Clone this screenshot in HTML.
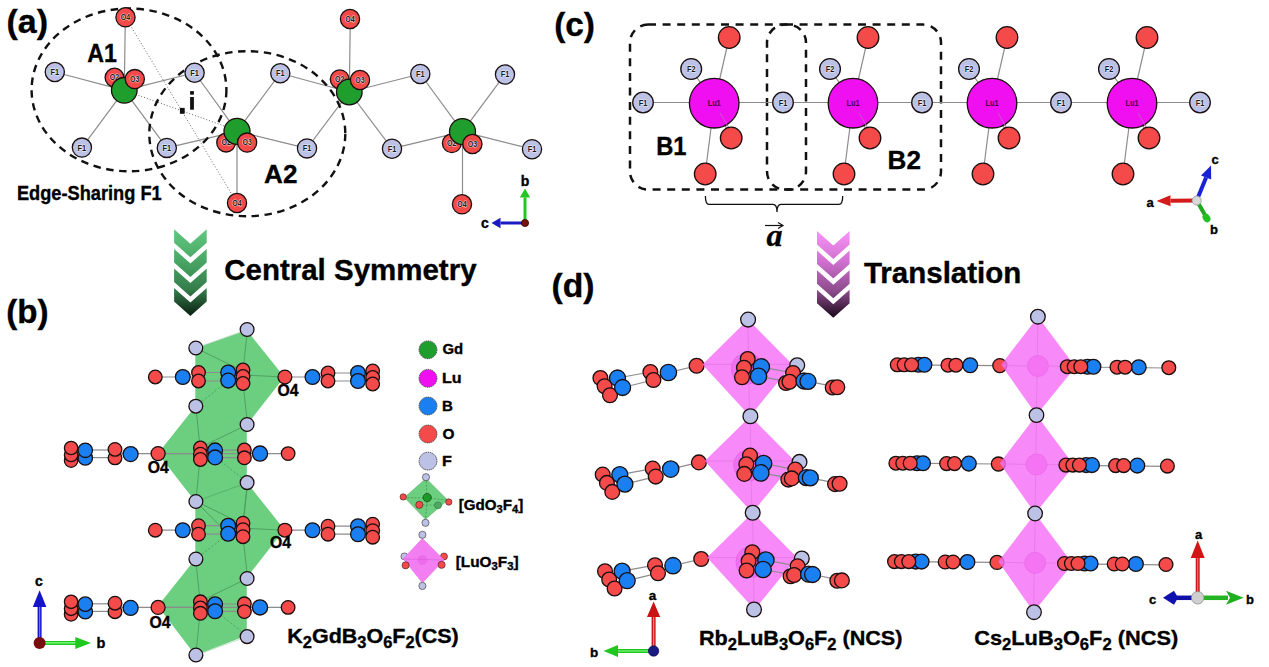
<!DOCTYPE html>
<html><head><meta charset="utf-8"><style>
html,body{margin:0;padding:0;background:#fff;}
svg{display:block;font-family:"Liberation Sans",sans-serif;}
.lu{font-weight:bold;}
svg > text:not(.al):not(.lu){stroke:#000;stroke-width:0.35px;}
.al{font-weight:bold;stroke:rgba(255,255,255,0.75);stroke-width:1.1px;paint-order:stroke;stroke-linejoin:round;}
</style></head><body>
<svg width="1269" height="667" viewBox="0 0 1269 667">
<rect width="1269" height="667" fill="#fff"/>
<text transform="translate(6.40,32.7) scale(1.0064,1)" font-size="33.8" font-weight="bold" >(a)</text>
<line x1="125.5" y1="17.3" x2="237" y2="203" stroke="#666" stroke-width="1" stroke-dasharray="1 2"/>
<line x1="124.3" y1="90.3" x2="237" y2="130.5" stroke="#666" stroke-width="1" stroke-dasharray="1 2"/>
<line x1="124.3" y1="90.3" x2="125.3" y2="18.299999999999997" stroke="#8c8c8c" stroke-width="1.2" />
<line x1="124.3" y1="90.3" x2="54.8" y2="71.9989" stroke="#8c8c8c" stroke-width="1.2" />
<line x1="124.3" y1="90.3" x2="194.6" y2="72.7678" stroke="#8c8c8c" stroke-width="1.2" />
<line x1="124.3" y1="90.3" x2="81.9" y2="147.59965" stroke="#8c8c8c" stroke-width="1.2" />
<line x1="124.3" y1="90.3" x2="166.8" y2="147.89679999999998" stroke="#8c8c8c" stroke-width="1.2" />
<line x1="237" y1="131.3" x2="237" y2="203.3" stroke="#8c8c8c" stroke-width="1.2" />
<line x1="237" y1="131.3" x2="194.6" y2="72.7678" stroke="#8c8c8c" stroke-width="1.2" />
<line x1="237" y1="131.3" x2="280.3" y2="73.23915" stroke="#8c8c8c" stroke-width="1.2" />
<line x1="237" y1="131.3" x2="166.8" y2="147.89679999999998" stroke="#8c8c8c" stroke-width="1.2" />
<line x1="237" y1="131.3" x2="307" y2="148.3875" stroke="#8c8c8c" stroke-width="1.2" />
<line x1="349.3" y1="92" x2="350.3" y2="20" stroke="#8c8c8c" stroke-width="1.2" />
<line x1="349.3" y1="92" x2="280.3" y2="73.23915" stroke="#8c8c8c" stroke-width="1.2" />
<line x1="349.3" y1="92" x2="420.3" y2="74.00915" stroke="#8c8c8c" stroke-width="1.2" />
<line x1="349.3" y1="92" x2="307" y2="148.3875" stroke="#8c8c8c" stroke-width="1.2" />
<line x1="349.3" y1="92" x2="392" y2="148.685" stroke="#8c8c8c" stroke-width="1.2" />
<line x1="462.5" y1="131.6" x2="462.5" y2="203.6" stroke="#8c8c8c" stroke-width="1.2" />
<line x1="462.5" y1="131.6" x2="420.3" y2="74.00915" stroke="#8c8c8c" stroke-width="1.2" />
<line x1="462.5" y1="131.6" x2="505" y2="74.475" stroke="#8c8c8c" stroke-width="1.2" />
<line x1="462.5" y1="131.6" x2="392" y2="148.685" stroke="#8c8c8c" stroke-width="1.2" />
<line x1="462.5" y1="131.6" x2="532" y2="149.17499999999998" stroke="#8c8c8c" stroke-width="1.2" />
<ellipse cx="129" cy="89.9" rx="97.4" ry="81.4" fill="none" stroke="#111" stroke-width="2.4" stroke-dasharray="7.5 5.5"/>
<ellipse cx="247.3" cy="133.7" rx="98" ry="82.5" fill="none" stroke="#111" stroke-width="2.4" stroke-dasharray="7.5 5.5"/>
<circle cx="125.5" cy="17.3" r="9.6" fill="#f44a4a" stroke="#1a0e0e" stroke-width="1.3"/>
<text transform="translate(125.5,20.17) scale(0.86,1)" font-size="8.2" text-anchor="middle" class="al" fill="#1a1a1a">O4</text>
<circle cx="350" cy="19" r="9.6" fill="#f44a4a" stroke="#1a0e0e" stroke-width="1.3"/>
<text transform="translate(350,21.87) scale(0.86,1)" font-size="8.2" text-anchor="middle" class="al" fill="#1a1a1a">O4</text>
<circle cx="237" cy="203" r="9.6" fill="#f44a4a" stroke="#1a0e0e" stroke-width="1.3"/>
<text transform="translate(237,205.87) scale(0.86,1)" font-size="8.2" text-anchor="middle" class="al" fill="#1a1a1a">O4</text>
<circle cx="462" cy="204.3" r="9.6" fill="#f44a4a" stroke="#1a0e0e" stroke-width="1.3"/>
<text transform="translate(462,207.17) scale(0.86,1)" font-size="8.2" text-anchor="middle" class="al" fill="#1a1a1a">O4</text>
<circle cx="54.8" cy="71.9989" r="9.6" fill="#bcc2e6" stroke="#1a0e0e" stroke-width="1.3"/>
<text transform="translate(54.8,75.01) scale(0.86,1)" font-size="8.6" text-anchor="middle" class="al" fill="#1a1a1a">F1</text>
<circle cx="194.6" cy="72.7678" r="9.6" fill="#bcc2e6" stroke="#1a0e0e" stroke-width="1.3"/>
<text transform="translate(194.6,75.78) scale(0.86,1)" font-size="8.6" text-anchor="middle" class="al" fill="#1a1a1a">F1</text>
<circle cx="280.3" cy="73.23915" r="9.6" fill="#bcc2e6" stroke="#1a0e0e" stroke-width="1.3"/>
<text transform="translate(280.3,76.25) scale(0.86,1)" font-size="8.6" text-anchor="middle" class="al" fill="#1a1a1a">F1</text>
<circle cx="420.3" cy="74.00915" r="9.6" fill="#bcc2e6" stroke="#1a0e0e" stroke-width="1.3"/>
<text transform="translate(420.3,77.02) scale(0.86,1)" font-size="8.6" text-anchor="middle" class="al" fill="#1a1a1a">F1</text>
<circle cx="505" cy="74.475" r="9.6" fill="#bcc2e6" stroke="#1a0e0e" stroke-width="1.3"/>
<text transform="translate(505,77.48) scale(0.86,1)" font-size="8.6" text-anchor="middle" class="al" fill="#1a1a1a">F1</text>
<circle cx="81.9" cy="147.59965" r="9.6" fill="#bcc2e6" stroke="#1a0e0e" stroke-width="1.3"/>
<text transform="translate(81.9,150.61) scale(0.86,1)" font-size="8.6" text-anchor="middle" class="al" fill="#1a1a1a">F1</text>
<circle cx="166.8" cy="147.89679999999998" r="9.6" fill="#bcc2e6" stroke="#1a0e0e" stroke-width="1.3"/>
<text transform="translate(166.8,150.91) scale(0.86,1)" font-size="8.6" text-anchor="middle" class="al" fill="#1a1a1a">F1</text>
<circle cx="307" cy="148.3875" r="9.6" fill="#bcc2e6" stroke="#1a0e0e" stroke-width="1.3"/>
<text transform="translate(307,151.40) scale(0.86,1)" font-size="8.6" text-anchor="middle" class="al" fill="#1a1a1a">F1</text>
<circle cx="392" cy="148.685" r="9.6" fill="#bcc2e6" stroke="#1a0e0e" stroke-width="1.3"/>
<text transform="translate(392,151.69) scale(0.86,1)" font-size="8.6" text-anchor="middle" class="al" fill="#1a1a1a">F1</text>
<circle cx="532" cy="149.17499999999998" r="9.6" fill="#bcc2e6" stroke="#1a0e0e" stroke-width="1.3"/>
<text transform="translate(532,152.18) scale(0.86,1)" font-size="8.6" text-anchor="middle" class="al" fill="#1a1a1a">F1</text>
<circle cx="114.5" cy="77.6" r="9.4" fill="#f44a4a" stroke="#1a0e0e" stroke-width="1.3"/>
<text transform="translate(114.5,80.47) scale(0.86,1)" font-size="8.2" text-anchor="middle" class="al" fill="#1a1a1a">O2</text>
<circle cx="124.3" cy="90.3" r="12.8" fill="#1f9e2d" stroke="#1a0e0e" stroke-width="1.3"/>
<circle cx="134.8" cy="79.1" r="9.6" fill="#f44a4a" stroke="#1a0e0e" stroke-width="1.3"/>
<text transform="translate(134.8,81.97) scale(0.86,1)" font-size="8.2" text-anchor="middle" class="al" fill="#1a1a1a">O3</text>
<circle cx="339.7" cy="79.3" r="9.4" fill="#f44a4a" stroke="#1a0e0e" stroke-width="1.3"/>
<text transform="translate(339.7,82.17) scale(0.86,1)" font-size="8.2" text-anchor="middle" class="al" fill="#1a1a1a">O2</text>
<circle cx="349.3" cy="92" r="12.8" fill="#1f9e2d" stroke="#1a0e0e" stroke-width="1.3"/>
<circle cx="360" cy="80" r="9.6" fill="#f44a4a" stroke="#1a0e0e" stroke-width="1.3"/>
<text transform="translate(360,82.87) scale(0.86,1)" font-size="8.2" text-anchor="middle" class="al" fill="#1a1a1a">O3</text>
<circle cx="226.1" cy="142.6" r="9.4" fill="#f44a4a" stroke="#1a0e0e" stroke-width="1.3"/>
<text transform="translate(226.1,145.47) scale(0.86,1)" font-size="8.2" text-anchor="middle" class="al" fill="#1a1a1a">O2</text>
<circle cx="237" cy="131.3" r="13" fill="#1f9e2d" stroke="#1a0e0e" stroke-width="1.3"/>
<circle cx="247.1" cy="142.6" r="9.6" fill="#f44a4a" stroke="#1a0e0e" stroke-width="1.3"/>
<text transform="translate(247.1,145.47) scale(0.86,1)" font-size="8.2" text-anchor="middle" class="al" fill="#1a1a1a">O3</text>
<circle cx="451.8" cy="143.2" r="9.4" fill="#f44a4a" stroke="#1a0e0e" stroke-width="1.3"/>
<text transform="translate(451.8,146.07) scale(0.86,1)" font-size="8.2" text-anchor="middle" class="al" fill="#1a1a1a">O2</text>
<circle cx="462.5" cy="131.6" r="13" fill="#1f9e2d" stroke="#1a0e0e" stroke-width="1.3"/>
<circle cx="472.4" cy="144" r="9.6" fill="#f44a4a" stroke="#1a0e0e" stroke-width="1.3"/>
<text transform="translate(472.4,146.87) scale(0.86,1)" font-size="8.2" text-anchor="middle" class="al" fill="#1a1a1a">O3</text>
<text transform="translate(87.20,61.8) scale(0.8991,1)" font-size="25.8" font-weight="bold" >A1</text>
<text transform="translate(264.12,182.7) scale(1.0090,1)" font-size="25.8" font-weight="bold" >A2</text>
<rect x="179.9" y="107.9" width="4.8" height="5.9" fill="#111"/>
<rect x="190.1" y="97" width="3.8" height="12.7" fill="#111"/>
<rect x="190.1" y="91.1" width="3.8" height="3.6" fill="#111"/>
<text transform="translate(16.92,199.5) scale(0.9253,1)" font-size="19.7" font-weight="bold" >Edge-Sharing F1</text>
<line x1="525" y1="223" x2="525.00" y2="197.50" stroke="#22c822" stroke-width="3"/>
<polygon points="525.00,188.50 530.20,197.50 519.80,197.50" fill="#22c822"/>
<line x1="525" y1="223" x2="500.50" y2="223.00" stroke="#1a1ac0" stroke-width="3"/>
<polygon points="491.50,223.00 500.50,217.80 500.50,228.20" fill="#1a1ac0"/>
<circle cx="525" cy="223" r="3.6" fill="#7a1010" stroke="#300" stroke-width="0.8"/>
<text x="525" y="186" font-size="14" font-weight="bold" text-anchor="middle" >b</text>
<text x="485" y="228" font-size="14" font-weight="bold" text-anchor="middle" >c</text>
<text transform="translate(554.13,35.9) scale(1.0088,1)" font-size="33.1" font-weight="bold" >(c)</text>
<rect x="630" y="24.6" width="176" height="165" rx="18" fill="none" stroke="#111" stroke-width="2.5" stroke-dasharray="8 6.6"/>
<rect x="767" y="24.6" width="174" height="165" rx="18" fill="none" stroke="#111" stroke-width="2.5" stroke-dasharray="8 6.6"/>
<line x1="643" y1="102.5" x2="1200" y2="102.5" stroke="#8c8c8c" stroke-width="1.2" />
<line x1="714.2" y1="103" x2="729.2" y2="37.5" stroke="#8c8c8c" stroke-width="1.2" />
<line x1="714.2" y1="103" x2="705.2" y2="174" stroke="#8c8c8c" stroke-width="1.2" />
<line x1="714.2" y1="103" x2="731.2" y2="138" stroke="#8c8c8c" stroke-width="1.2" />
<line x1="714.2" y1="103" x2="691.2" y2="69" stroke="#8c8c8c" stroke-width="1.2" />
<line x1="853" y1="103" x2="868" y2="37.5" stroke="#8c8c8c" stroke-width="1.2" />
<line x1="853" y1="103" x2="844" y2="174" stroke="#8c8c8c" stroke-width="1.2" />
<line x1="853" y1="103" x2="870" y2="138" stroke="#8c8c8c" stroke-width="1.2" />
<line x1="853" y1="103" x2="830" y2="69" stroke="#8c8c8c" stroke-width="1.2" />
<line x1="992" y1="103" x2="1007" y2="37.5" stroke="#8c8c8c" stroke-width="1.2" />
<line x1="992" y1="103" x2="983" y2="174" stroke="#8c8c8c" stroke-width="1.2" />
<line x1="992" y1="103" x2="1009" y2="138" stroke="#8c8c8c" stroke-width="1.2" />
<line x1="992" y1="103" x2="969" y2="69" stroke="#8c8c8c" stroke-width="1.2" />
<line x1="1132" y1="103" x2="1147" y2="37.5" stroke="#8c8c8c" stroke-width="1.2" />
<line x1="1132" y1="103" x2="1123" y2="174" stroke="#8c8c8c" stroke-width="1.2" />
<line x1="1132" y1="103" x2="1149" y2="138" stroke="#8c8c8c" stroke-width="1.2" />
<line x1="1132" y1="103" x2="1109" y2="69" stroke="#8c8c8c" stroke-width="1.2" />
<circle cx="643" cy="102.5" r="10.3" fill="#bcc2e6" stroke="#1a0e0e" stroke-width="1.3"/>
<text transform="translate(643,105.51) scale(0.86,1)" font-size="8.6" text-anchor="middle" class="al" fill="#1a1a1a">F1</text>
<circle cx="783" cy="102.5" r="10.3" fill="#bcc2e6" stroke="#1a0e0e" stroke-width="1.3"/>
<text transform="translate(783,105.51) scale(0.86,1)" font-size="8.6" text-anchor="middle" class="al" fill="#1a1a1a">F1</text>
<circle cx="922" cy="102.5" r="10.3" fill="#bcc2e6" stroke="#1a0e0e" stroke-width="1.3"/>
<text transform="translate(922,105.51) scale(0.86,1)" font-size="8.6" text-anchor="middle" class="al" fill="#1a1a1a">F1</text>
<circle cx="1061" cy="102.5" r="10.3" fill="#bcc2e6" stroke="#1a0e0e" stroke-width="1.3"/>
<text transform="translate(1061,105.51) scale(0.86,1)" font-size="8.6" text-anchor="middle" class="al" fill="#1a1a1a">F1</text>
<circle cx="1200" cy="102.5" r="10.3" fill="#bcc2e6" stroke="#1a0e0e" stroke-width="1.3"/>
<text transform="translate(1200,105.51) scale(0.86,1)" font-size="8.6" text-anchor="middle" class="al" fill="#1a1a1a">F1</text>
<circle cx="691.2" cy="69" r="10.4" fill="#bcc2e6" stroke="#1a0e0e" stroke-width="1.3"/>
<text transform="translate(691.2,72.01) scale(0.86,1)" font-size="8.6" text-anchor="middle" class="al" fill="#1a1a1a">F2</text>
<circle cx="714.2" cy="103.2" r="24.8" fill="#f00ff0" stroke="#1a0e0e" stroke-width="1.3"/>
<line x1="720.2" y1="113" x2="728.7" y2="127.5" stroke="#c858c8" stroke-width="1" />
<text transform="translate(714.2,106.17) scale(0.86,1)" font-size="8.5" text-anchor="middle" class="lu" fill="#4a004a">Lu1</text>
<circle cx="729.2" cy="37.5" r="10.8" fill="#f44a4a" stroke="#1a0e0e" stroke-width="1.3"/>
<circle cx="731.2" cy="138" r="10.8" fill="#f44a4a" stroke="#1a0e0e" stroke-width="1.3"/>
<circle cx="705.2" cy="174" r="10.8" fill="#f44a4a" stroke="#1a0e0e" stroke-width="1.3"/>
<circle cx="830" cy="69" r="10.4" fill="#bcc2e6" stroke="#1a0e0e" stroke-width="1.3"/>
<text transform="translate(830,72.01) scale(0.86,1)" font-size="8.6" text-anchor="middle" class="al" fill="#1a1a1a">F2</text>
<circle cx="853" cy="103.2" r="24.8" fill="#f00ff0" stroke="#1a0e0e" stroke-width="1.3"/>
<line x1="859" y1="113" x2="867.5" y2="127.5" stroke="#c858c8" stroke-width="1" />
<text transform="translate(853,106.17) scale(0.86,1)" font-size="8.5" text-anchor="middle" class="lu" fill="#4a004a">Lu1</text>
<circle cx="868" cy="37.5" r="10.8" fill="#f44a4a" stroke="#1a0e0e" stroke-width="1.3"/>
<circle cx="870" cy="138" r="10.8" fill="#f44a4a" stroke="#1a0e0e" stroke-width="1.3"/>
<circle cx="844" cy="174" r="10.8" fill="#f44a4a" stroke="#1a0e0e" stroke-width="1.3"/>
<circle cx="969" cy="69" r="10.4" fill="#bcc2e6" stroke="#1a0e0e" stroke-width="1.3"/>
<text transform="translate(969,72.01) scale(0.86,1)" font-size="8.6" text-anchor="middle" class="al" fill="#1a1a1a">F2</text>
<circle cx="992" cy="103.2" r="24.8" fill="#f00ff0" stroke="#1a0e0e" stroke-width="1.3"/>
<line x1="998" y1="113" x2="1006.5" y2="127.5" stroke="#c858c8" stroke-width="1" />
<text transform="translate(992,106.17) scale(0.86,1)" font-size="8.5" text-anchor="middle" class="lu" fill="#4a004a">Lu1</text>
<circle cx="1007" cy="37.5" r="10.8" fill="#f44a4a" stroke="#1a0e0e" stroke-width="1.3"/>
<circle cx="1009" cy="138" r="10.8" fill="#f44a4a" stroke="#1a0e0e" stroke-width="1.3"/>
<circle cx="983" cy="174" r="10.8" fill="#f44a4a" stroke="#1a0e0e" stroke-width="1.3"/>
<circle cx="1109" cy="69" r="10.4" fill="#bcc2e6" stroke="#1a0e0e" stroke-width="1.3"/>
<text transform="translate(1109,72.01) scale(0.86,1)" font-size="8.6" text-anchor="middle" class="al" fill="#1a1a1a">F2</text>
<circle cx="1132" cy="103.2" r="24.8" fill="#f00ff0" stroke="#1a0e0e" stroke-width="1.3"/>
<line x1="1138" y1="113" x2="1146.5" y2="127.5" stroke="#c858c8" stroke-width="1" />
<text transform="translate(1132,106.17) scale(0.86,1)" font-size="8.5" text-anchor="middle" class="lu" fill="#4a004a">Lu1</text>
<circle cx="1147" cy="37.5" r="10.8" fill="#f44a4a" stroke="#1a0e0e" stroke-width="1.3"/>
<circle cx="1149" cy="138" r="10.8" fill="#f44a4a" stroke="#1a0e0e" stroke-width="1.3"/>
<circle cx="1123" cy="174" r="10.8" fill="#f44a4a" stroke="#1a0e0e" stroke-width="1.3"/>
<text transform="translate(656.24,154.9) scale(0.9057,1)" font-size="26.2" font-weight="bold" >B1</text>
<text transform="translate(887.58,168.6) scale(1.0223,1)" font-size="25.5" font-weight="bold" >B2</text>
<path d="M705.4,196 Q705.4,204.4 709,204.4 L773,204.4 Q777,204.4 777,212 Q777,204.4 781,204.4 L839,204.4 Q842.7,204.4 842.7,196" fill="none" stroke="#111" stroke-width="1.3"/>
<text x="774.4" y="245.8" font-family="Liberation Serif" font-size="32" font-weight="bold" font-style="italic" text-anchor="middle">a</text>
<line x1="765" y1="225.5" x2="782" y2="225.5" stroke="#111" stroke-width="1.2"/>
<path d="M778,222.5 L783,225.5 L778,228.5" fill="none" stroke="#111" stroke-width="1.2"/>
<line x1="1196.7" y1="200.6" x2="1170.50" y2="200.86" stroke="#d41a1a" stroke-width="4"/>
<polygon points="1156.50,201.00 1170.44,195.36 1170.55,206.36" fill="#d41a1a"/>
<line x1="1196.7" y1="200.6" x2="1206.10" y2="177.54" stroke="#1a22d8" stroke-width="4"/>
<polygon points="1211.00,165.50 1211.19,179.61 1201.00,175.46" fill="#1a22d8"/>
<line x1="1196.7" y1="200.6" x2="1205" y2="215" stroke="#20a820" stroke-width="4"/>
<ellipse cx="1206.5" cy="218" rx="4.5" ry="3.6" transform="rotate(55 1206.5 218)" fill="#22c022"/>
<circle cx="1196.7" cy="200.6" r="4.6" fill="#d8d8d8" stroke="#9a9a9a" stroke-width="0.8"/>
<text x="1150" y="207" font-size="13" font-weight="bold" text-anchor="middle" >a</text>
<text x="1215" y="164" font-size="13" font-weight="bold" text-anchor="middle" >c</text>
<text x="1214" y="234" font-size="13" font-weight="bold" text-anchor="middle" >b</text>
<defs><linearGradient id="gg" x1="0" y1="0" x2="0" y2="1"><stop offset="0" stop-color="#62c880"/><stop offset="0.35" stop-color="#4aa866"/><stop offset="0.7" stop-color="#347c4a"/><stop offset="1" stop-color="#0a1e10"/></linearGradient><linearGradient id="pg" x1="0" y1="0" x2="0" y2="1"><stop offset="0" stop-color="#f894f8"/><stop offset="0.35" stop-color="#d070d0"/><stop offset="0.7" stop-color="#8a4a8a"/><stop offset="1" stop-color="#180818"/></linearGradient></defs>
<path d="M174.1,229.3 L190.4,243.8 L206.7,229.3 L206.7,242.8 L190.4,257.3 L174.1,242.8 Z M174.1,248.9 L190.4,263.4 L206.7,248.9 L206.7,262.4 L190.4,276.9 L174.1,262.4 Z M174.1,268.5 L190.4,283.0 L206.7,268.5 L206.7,282.0 L190.4,296.5 L174.1,282.0 Z M174.1,288.1 L190.4,302.6 L206.7,288.1 L206.7,301.6 L190.4,316.1 L174.1,301.6 Z" fill="url(#gg)"/>
<path d="M817,231.0 L833.3,245.5 L849.6,231.0 L849.6,244.5 L833.3,259.0 L817,244.5 Z M817,250.6 L833.3,265.1 L849.6,250.6 L849.6,264.1 L833.3,278.6 L817,264.1 Z M817,270.2 L833.3,284.7 L849.6,270.2 L849.6,283.7 L833.3,298.2 L817,283.7 Z M817,289.8 L833.3,304.3 L849.6,289.8 L849.6,303.3 L833.3,317.8 L817,303.3 Z" fill="url(#pg)"/>
<text transform="translate(224.22,279.8) scale(0.9832,1)" font-size="30" font-weight="bold" >Central Symmetry</text>
<text transform="translate(863.90,283.3) scale(0.9975,1)" font-size="29.6" font-weight="bold" >Translation</text>
<text transform="translate(6.14,322.9) scale(1.0041,1)" font-size="33" font-weight="bold" >(b)</text>
<polygon points="195.3,348.5 246.8,330.3 284.3,376.9 246.8,425.1 246.8,482.4 284.3,529.5 246.8,577.7 246.8,635.5 195.3,655.3 157.9,606 195.3,558.9 195.3,501.6 157.9,453.5 195.3,406.4" fill="#6ccf80"/>
<line x1="195.8" y1="348" x2="243" y2="371" stroke="#4c9c5c" stroke-width="0.9" />
<line x1="247.5" y1="329.5" x2="243" y2="371" stroke="#4c9c5c" stroke-width="0.9" />
<line x1="195.8" y1="406" x2="228" y2="381" stroke="#4c9c5c" stroke-width="0.9" stroke-dasharray="2 2"/>
<line x1="247.5" y1="424.5" x2="243" y2="383" stroke="#4c9c5c" stroke-width="0.9" />
<line x1="243" y1="375" x2="284.3" y2="377" stroke="#4c9c5c" stroke-width="0.9" />
<line x1="195.8" y1="348" x2="247.5" y2="329.5" stroke="#4c9c5c" stroke-width="0.6" opacity="0.5"/>
<line x1="195.8" y1="501.6" x2="200" y2="458.6" stroke="#4c9c5c" stroke-width="0.9" />
<line x1="195.8" y1="501.6" x2="228" y2="533.6" stroke="#4c9c5c" stroke-width="0.9" />
<line x1="247.5" y1="482.6" x2="215" y2="456.6" stroke="#4c9c5c" stroke-width="0.9" stroke-dasharray="2 2"/>
<line x1="247.5" y1="482.6" x2="243" y2="524.6" stroke="#4c9c5c" stroke-width="0.9" />
<line x1="195.8" y1="406.1" x2="200" y2="447.6" stroke="#4c9c5c" stroke-width="0.9" />
<line x1="247.5" y1="424.6" x2="200" y2="447.6" stroke="#4c9c5c" stroke-width="0.9" />
<line x1="158" y1="453.6" x2="200" y2="453.6" stroke="#4c9c5c" stroke-width="0.9" />
<line x1="195.8" y1="501.6" x2="247.5" y2="482.6" stroke="#4c9c5c" stroke-width="0.6" opacity="0.5"/>
<line x1="195.8" y1="501.20000000000005" x2="243" y2="524.2" stroke="#4c9c5c" stroke-width="0.9" />
<line x1="247.5" y1="482.70000000000005" x2="243" y2="524.2" stroke="#4c9c5c" stroke-width="0.9" />
<line x1="195.8" y1="559.2" x2="228" y2="534.2" stroke="#4c9c5c" stroke-width="0.9" stroke-dasharray="2 2"/>
<line x1="247.5" y1="577.7" x2="243" y2="536.2" stroke="#4c9c5c" stroke-width="0.9" />
<line x1="243" y1="528.2" x2="284.3" y2="530.2" stroke="#4c9c5c" stroke-width="0.9" />
<line x1="195.8" y1="501.20000000000005" x2="247.5" y2="482.70000000000005" stroke="#4c9c5c" stroke-width="0.6" opacity="0.5"/>
<line x1="195.8" y1="655.4" x2="200" y2="612.4" stroke="#4c9c5c" stroke-width="0.9" />
<line x1="247.5" y1="636.4" x2="215" y2="610.4" stroke="#4c9c5c" stroke-width="0.9" stroke-dasharray="2 2"/>
<line x1="195.8" y1="559.9" x2="200" y2="601.4" stroke="#4c9c5c" stroke-width="0.9" />
<line x1="247.5" y1="578.4" x2="200" y2="601.4" stroke="#4c9c5c" stroke-width="0.9" />
<line x1="158" y1="607.4" x2="200" y2="607.4" stroke="#4c9c5c" stroke-width="0.9" />
<line x1="195.8" y1="655.4" x2="247.5" y2="636.4" stroke="#4c9c5c" stroke-width="0.6" opacity="0.5"/>
<line x1="155.3" y1="377" x2="198.5" y2="377" stroke="#8c8c8c" stroke-width="1.2" />
<line x1="198.5" y1="372.5" x2="243" y2="372.5" stroke="#8c8c8c" stroke-width="1.2" />
<line x1="198.5" y1="381" x2="243" y2="381" stroke="#8c8c8c" stroke-width="1.2" />
<line x1="284.9" y1="377" x2="328" y2="377" stroke="#8c8c8c" stroke-width="1.2" />
<line x1="328" y1="373" x2="372" y2="373" stroke="#8c8c8c" stroke-width="1.2" />
<line x1="328" y1="381" x2="372" y2="381" stroke="#8c8c8c" stroke-width="1.2" />
<circle cx="155.3" cy="377" r="6.8" fill="#f44a4a" stroke="#1a0e0e" stroke-width="1.3"/>
<circle cx="182.8" cy="377" r="7.4" fill="#1a7ff0" stroke="#1a0e0e" stroke-width="1.3"/>
<circle cx="198.5" cy="372.5" r="6.8" fill="#f44a4a" stroke="#1a0e0e" stroke-width="1.3"/>
<circle cx="198.5" cy="381" r="6.8" fill="#f44a4a" stroke="#1a0e0e" stroke-width="1.3"/>
<circle cx="228.2" cy="372.5" r="7.4" fill="#1a7ff0" stroke="#1a0e0e" stroke-width="1.3"/>
<circle cx="228.2" cy="380.6" r="7.4" fill="#1a7ff0" stroke="#1a0e0e" stroke-width="1.3"/>
<circle cx="243" cy="370" r="6.8" fill="#f44a4a" stroke="#1a0e0e" stroke-width="1.3"/>
<circle cx="243" cy="376.5" r="6.8" fill="#f44a4a" stroke="#1a0e0e" stroke-width="1.3"/>
<circle cx="243" cy="383.5" r="6.8" fill="#f44a4a" stroke="#1a0e0e" stroke-width="1.3"/>
<circle cx="284.9" cy="377" r="6.9" fill="#f44a4a" stroke="#1a0e0e" stroke-width="1.3"/>
<circle cx="312.5" cy="377" r="7.4" fill="#1a7ff0" stroke="#1a0e0e" stroke-width="1.3"/>
<circle cx="328" cy="373" r="6.8" fill="#f44a4a" stroke="#1a0e0e" stroke-width="1.3"/>
<circle cx="328" cy="381" r="6.8" fill="#f44a4a" stroke="#1a0e0e" stroke-width="1.3"/>
<circle cx="358" cy="373" r="7.4" fill="#1a7ff0" stroke="#1a0e0e" stroke-width="1.3"/>
<circle cx="358" cy="381" r="7.4" fill="#1a7ff0" stroke="#1a0e0e" stroke-width="1.3"/>
<circle cx="372.7" cy="371" r="6.8" fill="#f44a4a" stroke="#1a0e0e" stroke-width="1.3"/>
<circle cx="372.7" cy="377.5" r="6.8" fill="#f44a4a" stroke="#1a0e0e" stroke-width="1.3"/>
<circle cx="372.7" cy="384" r="6.8" fill="#f44a4a" stroke="#1a0e0e" stroke-width="1.3"/>
<text x="288" y="396.2" font-size="16" font-weight="bold" text-anchor="middle" textLength="21" lengthAdjust="spacingAndGlyphs">O4</text>
<line x1="85" y1="450.0" x2="115" y2="450.0" stroke="#8c8c8c" stroke-width="1.2" />
<line x1="85" y1="457.6" x2="115" y2="457.6" stroke="#8c8c8c" stroke-width="1.2" />
<line x1="115" y1="453.6" x2="288" y2="453.6" stroke="#8c8c8c" stroke-width="1.2" />
<line x1="200" y1="450.20000000000005" x2="244" y2="450.20000000000005" stroke="#8c8c8c" stroke-width="1.2" />
<line x1="200" y1="457.6" x2="244" y2="457.6" stroke="#8c8c8c" stroke-width="1.2" />
<circle cx="71.1" cy="460.6" r="6.7" fill="#f44a4a" stroke="#1a0e0e" stroke-width="1.3"/>
<circle cx="71.1" cy="455.0" r="6.7" fill="#f44a4a" stroke="#1a0e0e" stroke-width="1.3"/>
<circle cx="71.1" cy="448.0" r="6.7" fill="#f44a4a" stroke="#1a0e0e" stroke-width="1.3"/>
<circle cx="85.3" cy="457.90000000000003" r="7.2" fill="#1a7ff0" stroke="#1a0e0e" stroke-width="1.3"/>
<circle cx="85.3" cy="450.3" r="7.2" fill="#1a7ff0" stroke="#1a0e0e" stroke-width="1.3"/>
<circle cx="115" cy="457.90000000000003" r="6.8" fill="#f44a4a" stroke="#1a0e0e" stroke-width="1.3"/>
<circle cx="115" cy="449.40000000000003" r="6.8" fill="#f44a4a" stroke="#1a0e0e" stroke-width="1.3"/>
<circle cx="130.6" cy="454.1" r="7.5" fill="#1a7ff0" stroke="#1a0e0e" stroke-width="1.3"/>
<circle cx="158.1" cy="453.6" r="7" fill="#f44a4a" stroke="#1a0e0e" stroke-width="1.3"/>
<circle cx="200.4" cy="448.0" r="6.8" fill="#f44a4a" stroke="#1a0e0e" stroke-width="1.3"/>
<circle cx="200.4" cy="454.20000000000005" r="6.8" fill="#f44a4a" stroke="#1a0e0e" stroke-width="1.3"/>
<circle cx="200.4" cy="459.5" r="6.8" fill="#f44a4a" stroke="#1a0e0e" stroke-width="1.3"/>
<circle cx="215.1" cy="450.40000000000003" r="7.4" fill="#1a7ff0" stroke="#1a0e0e" stroke-width="1.3"/>
<circle cx="215.1" cy="457.40000000000003" r="7.4" fill="#1a7ff0" stroke="#1a0e0e" stroke-width="1.3"/>
<circle cx="244.4" cy="450.0" r="6.8" fill="#f44a4a" stroke="#1a0e0e" stroke-width="1.3"/>
<circle cx="244.4" cy="457.8" r="6.8" fill="#f44a4a" stroke="#1a0e0e" stroke-width="1.3"/>
<circle cx="260" cy="453.6" r="7.6" fill="#1a7ff0" stroke="#1a0e0e" stroke-width="1.3"/>
<circle cx="288.1" cy="453.6" r="6.8" fill="#f44a4a" stroke="#1a0e0e" stroke-width="1.3"/>
<text x="158.3" y="473.40000000000003" font-size="16" font-weight="bold" text-anchor="middle" textLength="21" lengthAdjust="spacingAndGlyphs">O4</text>
<line x1="155.3" y1="530.2" x2="198.5" y2="530.2" stroke="#8c8c8c" stroke-width="1.2" />
<line x1="198.5" y1="525.7" x2="243" y2="525.7" stroke="#8c8c8c" stroke-width="1.2" />
<line x1="198.5" y1="534.2" x2="243" y2="534.2" stroke="#8c8c8c" stroke-width="1.2" />
<line x1="284.9" y1="530.2" x2="328" y2="530.2" stroke="#8c8c8c" stroke-width="1.2" />
<line x1="328" y1="526.2" x2="372" y2="526.2" stroke="#8c8c8c" stroke-width="1.2" />
<line x1="328" y1="534.2" x2="372" y2="534.2" stroke="#8c8c8c" stroke-width="1.2" />
<circle cx="155.3" cy="530.2" r="6.8" fill="#f44a4a" stroke="#1a0e0e" stroke-width="1.3"/>
<circle cx="182.8" cy="530.2" r="7.4" fill="#1a7ff0" stroke="#1a0e0e" stroke-width="1.3"/>
<circle cx="198.5" cy="525.7" r="6.8" fill="#f44a4a" stroke="#1a0e0e" stroke-width="1.3"/>
<circle cx="198.5" cy="534.2" r="6.8" fill="#f44a4a" stroke="#1a0e0e" stroke-width="1.3"/>
<circle cx="228.2" cy="525.7" r="7.4" fill="#1a7ff0" stroke="#1a0e0e" stroke-width="1.3"/>
<circle cx="228.2" cy="533.8000000000001" r="7.4" fill="#1a7ff0" stroke="#1a0e0e" stroke-width="1.3"/>
<circle cx="243" cy="523.2" r="6.8" fill="#f44a4a" stroke="#1a0e0e" stroke-width="1.3"/>
<circle cx="243" cy="529.7" r="6.8" fill="#f44a4a" stroke="#1a0e0e" stroke-width="1.3"/>
<circle cx="243" cy="536.7" r="6.8" fill="#f44a4a" stroke="#1a0e0e" stroke-width="1.3"/>
<circle cx="284.9" cy="530.2" r="6.9" fill="#f44a4a" stroke="#1a0e0e" stroke-width="1.3"/>
<circle cx="312.5" cy="530.2" r="7.4" fill="#1a7ff0" stroke="#1a0e0e" stroke-width="1.3"/>
<circle cx="328" cy="526.2" r="6.8" fill="#f44a4a" stroke="#1a0e0e" stroke-width="1.3"/>
<circle cx="328" cy="534.2" r="6.8" fill="#f44a4a" stroke="#1a0e0e" stroke-width="1.3"/>
<circle cx="358" cy="526.2" r="7.4" fill="#1a7ff0" stroke="#1a0e0e" stroke-width="1.3"/>
<circle cx="358" cy="534.2" r="7.4" fill="#1a7ff0" stroke="#1a0e0e" stroke-width="1.3"/>
<circle cx="372.7" cy="524.2" r="6.8" fill="#f44a4a" stroke="#1a0e0e" stroke-width="1.3"/>
<circle cx="372.7" cy="530.7" r="6.8" fill="#f44a4a" stroke="#1a0e0e" stroke-width="1.3"/>
<circle cx="372.7" cy="537.2" r="6.8" fill="#f44a4a" stroke="#1a0e0e" stroke-width="1.3"/>
<text x="280.4" y="547.8000000000001" font-size="16" font-weight="bold" text-anchor="middle" textLength="21" lengthAdjust="spacingAndGlyphs">O4</text>
<line x1="85" y1="603.8" x2="115" y2="603.8" stroke="#8c8c8c" stroke-width="1.2" />
<line x1="85" y1="611.4" x2="115" y2="611.4" stroke="#8c8c8c" stroke-width="1.2" />
<line x1="115" y1="607.4" x2="288" y2="607.4" stroke="#8c8c8c" stroke-width="1.2" />
<line x1="200" y1="604.0" x2="244" y2="604.0" stroke="#8c8c8c" stroke-width="1.2" />
<line x1="200" y1="611.4" x2="244" y2="611.4" stroke="#8c8c8c" stroke-width="1.2" />
<circle cx="71.1" cy="614.4" r="6.7" fill="#f44a4a" stroke="#1a0e0e" stroke-width="1.3"/>
<circle cx="71.1" cy="608.8" r="6.7" fill="#f44a4a" stroke="#1a0e0e" stroke-width="1.3"/>
<circle cx="71.1" cy="601.8" r="6.7" fill="#f44a4a" stroke="#1a0e0e" stroke-width="1.3"/>
<circle cx="85.3" cy="611.6999999999999" r="7.2" fill="#1a7ff0" stroke="#1a0e0e" stroke-width="1.3"/>
<circle cx="85.3" cy="604.1" r="7.2" fill="#1a7ff0" stroke="#1a0e0e" stroke-width="1.3"/>
<circle cx="115" cy="611.6999999999999" r="6.8" fill="#f44a4a" stroke="#1a0e0e" stroke-width="1.3"/>
<circle cx="115" cy="603.1999999999999" r="6.8" fill="#f44a4a" stroke="#1a0e0e" stroke-width="1.3"/>
<circle cx="130.6" cy="607.9" r="7.5" fill="#1a7ff0" stroke="#1a0e0e" stroke-width="1.3"/>
<circle cx="158.1" cy="607.4" r="7" fill="#f44a4a" stroke="#1a0e0e" stroke-width="1.3"/>
<circle cx="200.4" cy="601.8" r="6.8" fill="#f44a4a" stroke="#1a0e0e" stroke-width="1.3"/>
<circle cx="200.4" cy="608.0" r="6.8" fill="#f44a4a" stroke="#1a0e0e" stroke-width="1.3"/>
<circle cx="200.4" cy="613.3" r="6.8" fill="#f44a4a" stroke="#1a0e0e" stroke-width="1.3"/>
<circle cx="215.1" cy="604.1999999999999" r="7.4" fill="#1a7ff0" stroke="#1a0e0e" stroke-width="1.3"/>
<circle cx="215.1" cy="611.1999999999999" r="7.4" fill="#1a7ff0" stroke="#1a0e0e" stroke-width="1.3"/>
<circle cx="244.4" cy="603.8" r="6.8" fill="#f44a4a" stroke="#1a0e0e" stroke-width="1.3"/>
<circle cx="244.4" cy="611.6" r="6.8" fill="#f44a4a" stroke="#1a0e0e" stroke-width="1.3"/>
<circle cx="260" cy="607.4" r="7.6" fill="#1a7ff0" stroke="#1a0e0e" stroke-width="1.3"/>
<circle cx="288.1" cy="607.4" r="6.8" fill="#f44a4a" stroke="#1a0e0e" stroke-width="1.3"/>
<text x="160" y="627.6" font-size="16" font-weight="bold" text-anchor="middle" textLength="21" lengthAdjust="spacingAndGlyphs">O4</text>
<circle cx="247.1" cy="329.5" r="6.9" fill="#bcc2e6" stroke="#1a0e0e" stroke-width="1.3"/>
<circle cx="195.8" cy="348" r="6.9" fill="#bcc2e6" stroke="#1a0e0e" stroke-width="1.3"/>
<circle cx="195.8" cy="406.2" r="6.9" fill="#bcc2e6" stroke="#1a0e0e" stroke-width="1.3"/>
<circle cx="247.1" cy="424.5" r="6.9" fill="#bcc2e6" stroke="#1a0e0e" stroke-width="1.3"/>
<circle cx="247.1" cy="482.6" r="6.9" fill="#bcc2e6" stroke="#1a0e0e" stroke-width="1.3"/>
<circle cx="195.9" cy="501.5" r="6.9" fill="#bcc2e6" stroke="#1a0e0e" stroke-width="1.3"/>
<circle cx="195.9" cy="559" r="6.9" fill="#bcc2e6" stroke="#1a0e0e" stroke-width="1.3"/>
<circle cx="247.1" cy="578.5" r="6.9" fill="#bcc2e6" stroke="#1a0e0e" stroke-width="1.3"/>
<circle cx="247.1" cy="636.6" r="6.9" fill="#bcc2e6" stroke="#1a0e0e" stroke-width="1.3"/>
<circle cx="195.9" cy="655" r="6.9" fill="#bcc2e6" stroke="#1a0e0e" stroke-width="1.3"/>
<line x1="39.6" y1="642.9" x2="39.6" y2="604" stroke="#1414c8" stroke-width="4"/>
<line x1="39.6" y1="642.9" x2="39.6" y2="604" stroke="#7070ff" stroke-width="1.2"/>
<polygon points="39.6,590.2 32.8,607 46.4,607" fill="#1414c8"/>
<line x1="39.6" y1="642.9" x2="77" y2="642.9" stroke="#1ec81e" stroke-width="4"/>
<line x1="39.6" y1="642.9" x2="77" y2="642.9" stroke="#90ff90" stroke-width="1.2"/>
<polygon points="91,642.9 75.3,636.9 75.3,648.9" fill="#1ec81e"/>
<circle cx="39.6" cy="642.9" r="6" fill="#7a0c0c"/>
<text x="39" y="586" font-size="14" font-weight="bold" text-anchor="middle" >c</text>
<text x="101" y="647.5" font-size="14.5" font-weight="bold" text-anchor="middle" >b</text>
<text x="287.3" y="643.4" font-size="21" font-weight="bold" textLength="171.5" lengthAdjust="spacingAndGlyphs">K<tspan font-size="16" dy="5">2</tspan><tspan dy="-5">GdB</tspan><tspan font-size="16" dy="5">3</tspan><tspan dy="-5">O</tspan><tspan font-size="16" dy="5">6</tspan><tspan dy="-5">F</tspan><tspan font-size="16" dy="5">2</tspan><tspan dy="-5">(CS)</tspan></text>
<circle cx="428" cy="349.8" r="8.9" fill="#1f9e2d" stroke="#333" stroke-width="0.9" stroke-dasharray="1.5 0.8"/>
<text transform="translate(442.50,354.3) scale(1.0082,1)" font-size="14.8" font-weight="bold" >Gd</text>
<circle cx="428" cy="378.3" r="8.9" fill="#f00ff0" stroke="#333" stroke-width="0.9" stroke-dasharray="1.5 0.8"/>
<text transform="translate(441.97,382.7) scale(1.0886,1)" font-size="14.8" font-weight="bold" >Lu</text>
<circle cx="428" cy="406" r="8.9" fill="#1a7ff0" stroke="#333" stroke-width="0.9" stroke-dasharray="1.5 0.8"/>
<text transform="translate(442.04,410.7) scale(1.0191,1)" font-size="14.8" font-weight="bold" >B</text>
<circle cx="428" cy="434" r="8.9" fill="#f44a4a" stroke="#333" stroke-width="0.9" stroke-dasharray="1.5 0.8"/>
<text transform="translate(442.48,438.7) scale(1.0425,1)" font-size="14.8" font-weight="bold" >O</text>
<circle cx="428" cy="461.1" r="8.9" fill="#bcc2e6" stroke="#333" stroke-width="0.9" stroke-dasharray="1.5 0.8"/>
<text transform="translate(441.97,466.4) scale(1.0946,1)" font-size="14.8" font-weight="bold" >F</text>
<polygon points="426,478.4 447.6,500 425.5,519.2 404.4,497.6" fill="#6ccf80" stroke="#5aae6a" stroke-width="0.6"/>
<line x1="426" y1="478" x2="427" y2="498" stroke="#3f8f4e" stroke-width="0.7" stroke-dasharray="2 1.5"/>
<line x1="404" y1="497.6" x2="427" y2="498" stroke="#3f8f4e" stroke-width="0.7" stroke-dasharray="2 1.5"/>
<line x1="427" y1="498" x2="447" y2="500" stroke="#3f8f4e" stroke-width="0.7" stroke-dasharray="2 1.5"/>
<line x1="427" y1="498" x2="425.5" y2="519" stroke="#3f8f4e" stroke-width="0.7" stroke-dasharray="2 1.5"/>
<line x1="419" y1="505" x2="438" y2="505" stroke="#3f8f4e" stroke-width="0.7" stroke-dasharray="2 1.5"/>
<circle cx="426" cy="477.2" r="3.6" fill="#bcc2e6" stroke="#1a0e0e" stroke-width="0.5"/>
<circle cx="403.2" cy="496.9" r="3.2" fill="#f44a4a" stroke="#1a0e0e" stroke-width="0.5"/>
<circle cx="448.8" cy="502" r="3.2" fill="#f44a4a" stroke="#1a0e0e" stroke-width="0.5"/>
<circle cx="427.2" cy="497.6" r="4.2" fill="#1c9a28" stroke="#1a0e0e" stroke-width="0.5"/>
<circle cx="419.3" cy="504.8" r="3.6" fill="#f44a4a" stroke="#1a0e0e" stroke-width="0.5"/>
<circle cx="438" cy="505.3" r="3.5" fill="#4fa860" stroke="#2e6e3a" stroke-width="0.5"/>
<circle cx="425.5" cy="522.8" r="3.6" fill="#bcc2e6" stroke="#1a0e0e" stroke-width="0.5"/>
<text x="458.7" y="509.5" font-size="15" font-weight="bold" textLength="64.5" lengthAdjust="spacingAndGlyphs">[GdO<tspan font-size="11" dy="3">3</tspan><tspan dy="-3">F</tspan><tspan font-size="11" dy="3">4</tspan><tspan dy="-3">]</tspan></text>
<circle cx="404.4" cy="556.4" r="3.5" fill="#bcc2e6" stroke="#1a0e0e" stroke-width="0.5"/>
<circle cx="444" cy="556.4" r="3.5" fill="#f44a4a" stroke="#1a0e0e" stroke-width="0.5"/>
<polygon points="422.4,538.4 444,560 422.4,582.8 403.2,558.8" fill="#f27ef2" stroke="#e070e0" stroke-width="0.6"/>
<circle cx="422.4" cy="560" r="5" fill="#ec6cec"/>
<line x1="403" y1="559" x2="444" y2="560" stroke="#d860d8" stroke-width="0.6" />
<circle cx="422.4" cy="534.8" r="3.6" fill="#bcc2e6" stroke="#1a0e0e" stroke-width="0.5"/>
<circle cx="422.4" cy="585.9" r="3.6" fill="#bcc2e6" stroke="#1a0e0e" stroke-width="0.5"/>
<circle cx="405.6" cy="565.3" r="3.6" fill="#f44a4a" stroke="#1a0e0e" stroke-width="0.5"/>
<circle cx="441.6" cy="564.8" r="3.6" fill="#f44a4a" stroke="#1a0e0e" stroke-width="0.5"/>
<text x="455.7" y="566.8" font-size="15" font-weight="bold" textLength="63" lengthAdjust="spacingAndGlyphs">[LuO<tspan font-size="11" dy="3">3</tspan><tspan dy="-3">F</tspan><tspan font-size="11" dy="3">3</tspan><tspan dy="-3">]</tspan></text>
<text transform="translate(551.41,296.9) scale(1.0283,1)" font-size="32.8" font-weight="bold" >(d)</text>
<line x1="617.5" y1="378.0" x2="650.4" y2="372.0" stroke="#8c8c8c" stroke-width="1.2" />
<line x1="622.6" y1="387.5" x2="653.4" y2="380.0" stroke="#8c8c8c" stroke-width="1.2" />
<line x1="668.4" y1="372.5" x2="696.6" y2="365.8" stroke="#8c8c8c" stroke-width="1.2" />
<circle cx="600.4" cy="378.0" r="7.4" fill="#f44a4a" stroke="#1a0e0e" stroke-width="1.3"/>
<circle cx="604.6" cy="386.3" r="7.4" fill="#f44a4a" stroke="#1a0e0e" stroke-width="1.3"/>
<circle cx="610.0" cy="395.3" r="7.4" fill="#f44a4a" stroke="#1a0e0e" stroke-width="1.3"/>
<circle cx="617.5" cy="378.0" r="8" fill="#1a7ff0" stroke="#1a0e0e" stroke-width="1.3"/>
<circle cx="622.6" cy="387.5" r="8" fill="#1a7ff0" stroke="#1a0e0e" stroke-width="1.3"/>
<circle cx="650.4" cy="372.0" r="7.4" fill="#f44a4a" stroke="#1a0e0e" stroke-width="1.3"/>
<circle cx="653.4" cy="380.0" r="7.4" fill="#f44a4a" stroke="#1a0e0e" stroke-width="1.3"/>
<circle cx="668.4" cy="372.5" r="8.2" fill="#1a7ff0" stroke="#1a0e0e" stroke-width="1.3"/>
<circle cx="696.6" cy="365.8" r="7.4" fill="#f44a4a" stroke="#1a0e0e" stroke-width="1.3"/>
<polygon points="748.1,319.6 792.5,364.4 750.0,416.2 702.5,364.4" fill="#f66cf6" fill-opacity="0.8"/>
<line x1="748.0" y1="324.0" x2="749.4" y2="410.6" stroke="#e27ae2" stroke-width="0.8" />
<line x1="703.2" y1="364.4" x2="791.4" y2="364.4" stroke="#e27ae2" stroke-width="0.8" />
<circle cx="747.0" cy="368.6" r="15.7" fill="#f070f0" stroke="#e060e0" stroke-width="0.6"/>
<circle cx="748.1" cy="319.6" r="7.4" fill="#bcc2e6" stroke="#1a0e0e" stroke-width="1.3"/>
<circle cx="797.2" cy="365.3" r="7.4" fill="#bcc2e6" stroke="#1a0e0e" stroke-width="1.3"/>
<line x1="761.3" y1="366.9" x2="793.0" y2="373.0" stroke="#8c8c8c" stroke-width="1.2" />
<line x1="758.5" y1="376.3" x2="789.5" y2="381.8" stroke="#8c8c8c" stroke-width="1.2" />
<line x1="808.0" y1="381.3" x2="837.3" y2="387.2" stroke="#8c8c8c" stroke-width="1.2" />
<circle cx="747.7" cy="359.0" r="7.4" fill="#f44a4a" stroke="#1a0e0e" stroke-width="1.3"/>
<circle cx="744.0" cy="367.7" r="7.4" fill="#f44a4a" stroke="#1a0e0e" stroke-width="1.3"/>
<circle cx="742.0" cy="377.3" r="7.4" fill="#f44a4a" stroke="#1a0e0e" stroke-width="1.3"/>
<circle cx="761.3" cy="366.9" r="8.2" fill="#1a7ff0" stroke="#1a0e0e" stroke-width="1.3"/>
<circle cx="758.5" cy="376.3" r="8.2" fill="#1a7ff0" stroke="#1a0e0e" stroke-width="1.3"/>
<circle cx="786.0" cy="383.0" r="7.4" fill="#f44a4a" stroke="#1a0e0e" stroke-width="1.3"/>
<circle cx="793.0" cy="373.0" r="7.4" fill="#f44a4a" stroke="#1a0e0e" stroke-width="1.3"/>
<circle cx="789.5" cy="381.8" r="7.4" fill="#f44a4a" stroke="#1a0e0e" stroke-width="1.3"/>
<circle cx="804.0" cy="381.0" r="8" fill="#1a7ff0" stroke="#1a0e0e" stroke-width="1.3"/>
<circle cx="808.0" cy="381.3" r="8" fill="#1a7ff0" stroke="#1a0e0e" stroke-width="1.3"/>
<circle cx="832.7" cy="387.5" r="7.4" fill="#f44a4a" stroke="#1a0e0e" stroke-width="1.3"/>
<circle cx="837.3" cy="387.2" r="7.4" fill="#f44a4a" stroke="#1a0e0e" stroke-width="1.3"/>
<line x1="619.8" y1="474.6" x2="652.6999999999999" y2="468.6" stroke="#8c8c8c" stroke-width="1.2" />
<line x1="624.9" y1="484.1" x2="655.6999999999999" y2="476.6" stroke="#8c8c8c" stroke-width="1.2" />
<line x1="670.6999999999999" y1="469.1" x2="698.9" y2="462.4" stroke="#8c8c8c" stroke-width="1.2" />
<circle cx="602.6999999999999" cy="474.6" r="7.4" fill="#f44a4a" stroke="#1a0e0e" stroke-width="1.3"/>
<circle cx="606.9" cy="482.9" r="7.4" fill="#f44a4a" stroke="#1a0e0e" stroke-width="1.3"/>
<circle cx="612.3" cy="491.9" r="7.4" fill="#f44a4a" stroke="#1a0e0e" stroke-width="1.3"/>
<circle cx="619.8" cy="474.6" r="8" fill="#1a7ff0" stroke="#1a0e0e" stroke-width="1.3"/>
<circle cx="624.9" cy="484.1" r="8" fill="#1a7ff0" stroke="#1a0e0e" stroke-width="1.3"/>
<circle cx="652.6999999999999" cy="468.6" r="7.4" fill="#f44a4a" stroke="#1a0e0e" stroke-width="1.3"/>
<circle cx="655.6999999999999" cy="476.6" r="7.4" fill="#f44a4a" stroke="#1a0e0e" stroke-width="1.3"/>
<circle cx="670.6999999999999" cy="469.1" r="8.2" fill="#1a7ff0" stroke="#1a0e0e" stroke-width="1.3"/>
<circle cx="698.9" cy="462.4" r="7.4" fill="#f44a4a" stroke="#1a0e0e" stroke-width="1.3"/>
<polygon points="750.4,416.20000000000005 794.8,461.0 752.3,512.8 704.8,461.0" fill="#f66cf6" fill-opacity="0.8"/>
<line x1="750.3" y1="420.6" x2="751.6999999999999" y2="507.20000000000005" stroke="#e27ae2" stroke-width="0.8" />
<line x1="705.5" y1="461.0" x2="793.6999999999999" y2="461.0" stroke="#e27ae2" stroke-width="0.8" />
<circle cx="749.3" cy="465.20000000000005" r="15.7" fill="#f070f0" stroke="#e060e0" stroke-width="0.6"/>
<circle cx="750.4" cy="416.20000000000005" r="7.4" fill="#bcc2e6" stroke="#1a0e0e" stroke-width="1.3"/>
<circle cx="799.5" cy="461.9" r="7.4" fill="#bcc2e6" stroke="#1a0e0e" stroke-width="1.3"/>
<line x1="763.5999999999999" y1="463.5" x2="795.3" y2="469.6" stroke="#8c8c8c" stroke-width="1.2" />
<line x1="760.8" y1="472.9" x2="791.8" y2="478.4" stroke="#8c8c8c" stroke-width="1.2" />
<line x1="810.3" y1="477.9" x2="839.5999999999999" y2="483.79999999999995" stroke="#8c8c8c" stroke-width="1.2" />
<circle cx="750.0" cy="455.6" r="7.4" fill="#f44a4a" stroke="#1a0e0e" stroke-width="1.3"/>
<circle cx="746.3" cy="464.29999999999995" r="7.4" fill="#f44a4a" stroke="#1a0e0e" stroke-width="1.3"/>
<circle cx="744.3" cy="473.9" r="7.4" fill="#f44a4a" stroke="#1a0e0e" stroke-width="1.3"/>
<circle cx="763.5999999999999" cy="463.5" r="8.2" fill="#1a7ff0" stroke="#1a0e0e" stroke-width="1.3"/>
<circle cx="760.8" cy="472.9" r="8.2" fill="#1a7ff0" stroke="#1a0e0e" stroke-width="1.3"/>
<circle cx="788.3" cy="479.6" r="7.4" fill="#f44a4a" stroke="#1a0e0e" stroke-width="1.3"/>
<circle cx="795.3" cy="469.6" r="7.4" fill="#f44a4a" stroke="#1a0e0e" stroke-width="1.3"/>
<circle cx="791.8" cy="478.4" r="7.4" fill="#f44a4a" stroke="#1a0e0e" stroke-width="1.3"/>
<circle cx="806.3" cy="477.6" r="8" fill="#1a7ff0" stroke="#1a0e0e" stroke-width="1.3"/>
<circle cx="810.3" cy="477.9" r="8" fill="#1a7ff0" stroke="#1a0e0e" stroke-width="1.3"/>
<circle cx="835.0" cy="484.1" r="7.4" fill="#f44a4a" stroke="#1a0e0e" stroke-width="1.3"/>
<circle cx="839.5999999999999" cy="483.79999999999995" r="7.4" fill="#f44a4a" stroke="#1a0e0e" stroke-width="1.3"/>
<line x1="622.1" y1="571.2" x2="655.0" y2="565.2" stroke="#8c8c8c" stroke-width="1.2" />
<line x1="627.2" y1="580.7" x2="658.0" y2="573.2" stroke="#8c8c8c" stroke-width="1.2" />
<line x1="673.0" y1="565.7" x2="701.2" y2="559.0" stroke="#8c8c8c" stroke-width="1.2" />
<circle cx="605.0" cy="571.2" r="7.4" fill="#f44a4a" stroke="#1a0e0e" stroke-width="1.3"/>
<circle cx="609.2" cy="579.5" r="7.4" fill="#f44a4a" stroke="#1a0e0e" stroke-width="1.3"/>
<circle cx="614.6" cy="588.5" r="7.4" fill="#f44a4a" stroke="#1a0e0e" stroke-width="1.3"/>
<circle cx="622.1" cy="571.2" r="8" fill="#1a7ff0" stroke="#1a0e0e" stroke-width="1.3"/>
<circle cx="627.2" cy="580.7" r="8" fill="#1a7ff0" stroke="#1a0e0e" stroke-width="1.3"/>
<circle cx="655.0" cy="565.2" r="7.4" fill="#f44a4a" stroke="#1a0e0e" stroke-width="1.3"/>
<circle cx="658.0" cy="573.2" r="7.4" fill="#f44a4a" stroke="#1a0e0e" stroke-width="1.3"/>
<circle cx="673.0" cy="565.7" r="8.2" fill="#1a7ff0" stroke="#1a0e0e" stroke-width="1.3"/>
<circle cx="701.2" cy="559.0" r="7.4" fill="#f44a4a" stroke="#1a0e0e" stroke-width="1.3"/>
<polygon points="752.7,512.8 797.1,557.5999999999999 754.6,609.4 707.1,557.5999999999999" fill="#f66cf6" fill-opacity="0.8"/>
<line x1="752.6" y1="517.2" x2="754.0" y2="603.8" stroke="#e27ae2" stroke-width="0.8" />
<line x1="707.8000000000001" y1="557.5999999999999" x2="796.0" y2="557.5999999999999" stroke="#e27ae2" stroke-width="0.8" />
<circle cx="751.6" cy="561.8" r="15.7" fill="#f070f0" stroke="#e060e0" stroke-width="0.6"/>
<circle cx="752.7" cy="512.8" r="7.4" fill="#bcc2e6" stroke="#1a0e0e" stroke-width="1.3"/>
<circle cx="801.8000000000001" cy="558.5" r="7.4" fill="#bcc2e6" stroke="#1a0e0e" stroke-width="1.3"/>
<line x1="765.9" y1="560.0999999999999" x2="797.6" y2="566.2" stroke="#8c8c8c" stroke-width="1.2" />
<line x1="763.1" y1="569.5" x2="794.1" y2="575.0" stroke="#8c8c8c" stroke-width="1.2" />
<line x1="812.6" y1="574.5" x2="841.9" y2="580.4" stroke="#8c8c8c" stroke-width="1.2" />
<circle cx="752.3000000000001" cy="552.2" r="7.4" fill="#f44a4a" stroke="#1a0e0e" stroke-width="1.3"/>
<circle cx="748.6" cy="560.9" r="7.4" fill="#f44a4a" stroke="#1a0e0e" stroke-width="1.3"/>
<circle cx="746.6" cy="570.5" r="7.4" fill="#f44a4a" stroke="#1a0e0e" stroke-width="1.3"/>
<circle cx="765.9" cy="560.0999999999999" r="8.2" fill="#1a7ff0" stroke="#1a0e0e" stroke-width="1.3"/>
<circle cx="763.1" cy="569.5" r="8.2" fill="#1a7ff0" stroke="#1a0e0e" stroke-width="1.3"/>
<circle cx="790.6" cy="576.2" r="7.4" fill="#f44a4a" stroke="#1a0e0e" stroke-width="1.3"/>
<circle cx="797.6" cy="566.2" r="7.4" fill="#f44a4a" stroke="#1a0e0e" stroke-width="1.3"/>
<circle cx="794.1" cy="575.0" r="7.4" fill="#f44a4a" stroke="#1a0e0e" stroke-width="1.3"/>
<circle cx="808.6" cy="574.2" r="8" fill="#1a7ff0" stroke="#1a0e0e" stroke-width="1.3"/>
<circle cx="812.6" cy="574.5" r="8" fill="#1a7ff0" stroke="#1a0e0e" stroke-width="1.3"/>
<circle cx="837.3000000000001" cy="580.7" r="7.4" fill="#f44a4a" stroke="#1a0e0e" stroke-width="1.3"/>
<circle cx="841.9" cy="580.4" r="7.4" fill="#f44a4a" stroke="#1a0e0e" stroke-width="1.3"/>
<circle cx="754" cy="609.5" r="7.4" fill="#bcc2e6" stroke="#1a0e0e" stroke-width="1.3"/>
<line x1="897.5" y1="364.8" x2="1000.0" y2="365.6" stroke="#8c8c8c" stroke-width="1.2" />
<line x1="1074.0" y1="367.0" x2="1168.0" y2="368.0" stroke="#8c8c8c" stroke-width="1.2" />
<circle cx="999.8" cy="365.6" r="7" fill="#f44a4a" stroke="#1a0e0e" stroke-width="1.3"/>
<polygon points="1037.9,316.7 1075.5,367.0 1036.5,415.1 1001.2,364.8" fill="#f66cf6" fill-opacity="0.8"/>
<line x1="1037.9" y1="320.0" x2="1036.5" y2="411.0" stroke="#e27ae2" stroke-width="0.8" />
<line x1="1002.8" y1="365.6" x2="1074.3" y2="366.5" stroke="#e27ae2" stroke-width="0.8" />
<circle cx="1037.9" cy="366.0" r="10.5" fill="#f474f4" stroke="#e464e4" stroke-width="0.6"/>
<circle cx="1037.9" cy="316.7" r="7.3" fill="#bcc2e6" stroke="#1a0e0e" stroke-width="1.3"/>
<circle cx="918.5" cy="364.8" r="7.4" fill="#1a7ff0" stroke="#1a0e0e" stroke-width="1.3"/>
<circle cx="924.4" cy="364.8" r="7.4" fill="#1a7ff0" stroke="#1a0e0e" stroke-width="1.3"/>
<circle cx="897.3" cy="364.8" r="6.9" fill="#f44a4a" stroke="#1a0e0e" stroke-width="1.3"/>
<circle cx="904.2" cy="364.8" r="6.9" fill="#f44a4a" stroke="#1a0e0e" stroke-width="1.3"/>
<circle cx="911.6" cy="364.8" r="6.9" fill="#f44a4a" stroke="#1a0e0e" stroke-width="1.3"/>
<circle cx="970.2" cy="365.2" r="7.4" fill="#1a7ff0" stroke="#1a0e0e" stroke-width="1.3"/>
<circle cx="948.0" cy="365.2" r="6.9" fill="#f44a4a" stroke="#1a0e0e" stroke-width="1.3"/>
<circle cx="955.9" cy="365.2" r="6.9" fill="#f44a4a" stroke="#1a0e0e" stroke-width="1.3"/>
<circle cx="1087.5" cy="366.7" r="7.4" fill="#1a7ff0" stroke="#1a0e0e" stroke-width="1.3"/>
<circle cx="1093.4" cy="366.7" r="7.4" fill="#1a7ff0" stroke="#1a0e0e" stroke-width="1.3"/>
<circle cx="1067.3" cy="366.7" r="6.9" fill="#f44a4a" stroke="#1a0e0e" stroke-width="1.3"/>
<circle cx="1074.2" cy="366.7" r="6.9" fill="#f44a4a" stroke="#1a0e0e" stroke-width="1.3"/>
<circle cx="1080.8" cy="366.7" r="6.9" fill="#f44a4a" stroke="#1a0e0e" stroke-width="1.3"/>
<circle cx="1138.7" cy="367.2" r="7.4" fill="#1a7ff0" stroke="#1a0e0e" stroke-width="1.3"/>
<circle cx="1117.0" cy="367.2" r="6.9" fill="#f44a4a" stroke="#1a0e0e" stroke-width="1.3"/>
<circle cx="1125.1" cy="367.2" r="6.9" fill="#f44a4a" stroke="#1a0e0e" stroke-width="1.3"/>
<circle cx="1168.8" cy="367.7" r="6.9" fill="#f44a4a" stroke="#1a0e0e" stroke-width="1.3"/>
<line x1="896.1" y1="463.20000000000005" x2="998.6" y2="464.0" stroke="#8c8c8c" stroke-width="1.2" />
<line x1="1072.6" y1="465.4" x2="1166.6" y2="466.4" stroke="#8c8c8c" stroke-width="1.2" />
<circle cx="998.4" cy="464.0" r="7" fill="#f44a4a" stroke="#1a0e0e" stroke-width="1.3"/>
<polygon points="1036.5,415.1 1074.1,465.4 1035.1,513.5 999.8000000000001,463.20000000000005" fill="#f66cf6" fill-opacity="0.8"/>
<line x1="1036.5" y1="418.4" x2="1035.1" y2="509.4" stroke="#e27ae2" stroke-width="0.8" />
<line x1="1001.4" y1="464.0" x2="1072.8999999999999" y2="464.9" stroke="#e27ae2" stroke-width="0.8" />
<circle cx="1036.5" cy="464.4" r="10.5" fill="#f474f4" stroke="#e464e4" stroke-width="0.6"/>
<circle cx="1036.5" cy="415.1" r="7.3" fill="#bcc2e6" stroke="#1a0e0e" stroke-width="1.3"/>
<circle cx="917.1" cy="463.20000000000005" r="7.4" fill="#1a7ff0" stroke="#1a0e0e" stroke-width="1.3"/>
<circle cx="923.0" cy="463.20000000000005" r="7.4" fill="#1a7ff0" stroke="#1a0e0e" stroke-width="1.3"/>
<circle cx="895.9" cy="463.20000000000005" r="6.9" fill="#f44a4a" stroke="#1a0e0e" stroke-width="1.3"/>
<circle cx="902.8000000000001" cy="463.20000000000005" r="6.9" fill="#f44a4a" stroke="#1a0e0e" stroke-width="1.3"/>
<circle cx="910.2" cy="463.20000000000005" r="6.9" fill="#f44a4a" stroke="#1a0e0e" stroke-width="1.3"/>
<circle cx="968.8000000000001" cy="463.6" r="7.4" fill="#1a7ff0" stroke="#1a0e0e" stroke-width="1.3"/>
<circle cx="946.6" cy="463.6" r="6.9" fill="#f44a4a" stroke="#1a0e0e" stroke-width="1.3"/>
<circle cx="954.5" cy="463.6" r="6.9" fill="#f44a4a" stroke="#1a0e0e" stroke-width="1.3"/>
<circle cx="1086.1" cy="465.1" r="7.4" fill="#1a7ff0" stroke="#1a0e0e" stroke-width="1.3"/>
<circle cx="1092.0" cy="465.1" r="7.4" fill="#1a7ff0" stroke="#1a0e0e" stroke-width="1.3"/>
<circle cx="1065.8999999999999" cy="465.1" r="6.9" fill="#f44a4a" stroke="#1a0e0e" stroke-width="1.3"/>
<circle cx="1072.8" cy="465.1" r="6.9" fill="#f44a4a" stroke="#1a0e0e" stroke-width="1.3"/>
<circle cx="1079.3999999999999" cy="465.1" r="6.9" fill="#f44a4a" stroke="#1a0e0e" stroke-width="1.3"/>
<circle cx="1137.3" cy="465.6" r="7.4" fill="#1a7ff0" stroke="#1a0e0e" stroke-width="1.3"/>
<circle cx="1115.6" cy="465.6" r="6.9" fill="#f44a4a" stroke="#1a0e0e" stroke-width="1.3"/>
<circle cx="1123.6999999999998" cy="465.6" r="6.9" fill="#f44a4a" stroke="#1a0e0e" stroke-width="1.3"/>
<circle cx="1167.3999999999999" cy="466.1" r="6.9" fill="#f44a4a" stroke="#1a0e0e" stroke-width="1.3"/>
<line x1="894.7" y1="561.6" x2="997.2" y2="562.4000000000001" stroke="#8c8c8c" stroke-width="1.2" />
<line x1="1071.2" y1="563.8" x2="1165.2" y2="564.8" stroke="#8c8c8c" stroke-width="1.2" />
<circle cx="997.0" cy="562.4000000000001" r="7" fill="#f44a4a" stroke="#1a0e0e" stroke-width="1.3"/>
<polygon points="1035.1000000000001,513.5 1072.7,563.8 1033.7,611.9000000000001 998.4000000000001,561.6" fill="#f66cf6" fill-opacity="0.8"/>
<line x1="1035.1000000000001" y1="516.8" x2="1033.7" y2="607.8" stroke="#e27ae2" stroke-width="0.8" />
<line x1="1000.0" y1="562.4000000000001" x2="1071.5" y2="563.3" stroke="#e27ae2" stroke-width="0.8" />
<circle cx="1035.1000000000001" cy="562.8" r="10.5" fill="#f474f4" stroke="#e464e4" stroke-width="0.6"/>
<circle cx="1035.1000000000001" cy="513.5" r="7.3" fill="#bcc2e6" stroke="#1a0e0e" stroke-width="1.3"/>
<circle cx="915.7" cy="561.6" r="7.4" fill="#1a7ff0" stroke="#1a0e0e" stroke-width="1.3"/>
<circle cx="921.6" cy="561.6" r="7.4" fill="#1a7ff0" stroke="#1a0e0e" stroke-width="1.3"/>
<circle cx="894.5" cy="561.6" r="6.9" fill="#f44a4a" stroke="#1a0e0e" stroke-width="1.3"/>
<circle cx="901.4000000000001" cy="561.6" r="6.9" fill="#f44a4a" stroke="#1a0e0e" stroke-width="1.3"/>
<circle cx="908.8000000000001" cy="561.6" r="6.9" fill="#f44a4a" stroke="#1a0e0e" stroke-width="1.3"/>
<circle cx="967.4000000000001" cy="562.0" r="7.4" fill="#1a7ff0" stroke="#1a0e0e" stroke-width="1.3"/>
<circle cx="945.2" cy="562.0" r="6.9" fill="#f44a4a" stroke="#1a0e0e" stroke-width="1.3"/>
<circle cx="953.1" cy="562.0" r="6.9" fill="#f44a4a" stroke="#1a0e0e" stroke-width="1.3"/>
<circle cx="1084.7" cy="563.5" r="7.4" fill="#1a7ff0" stroke="#1a0e0e" stroke-width="1.3"/>
<circle cx="1090.6000000000001" cy="563.5" r="7.4" fill="#1a7ff0" stroke="#1a0e0e" stroke-width="1.3"/>
<circle cx="1064.5" cy="563.5" r="6.9" fill="#f44a4a" stroke="#1a0e0e" stroke-width="1.3"/>
<circle cx="1071.4" cy="563.5" r="6.9" fill="#f44a4a" stroke="#1a0e0e" stroke-width="1.3"/>
<circle cx="1078.0" cy="563.5" r="6.9" fill="#f44a4a" stroke="#1a0e0e" stroke-width="1.3"/>
<circle cx="1135.9" cy="564.0" r="7.4" fill="#1a7ff0" stroke="#1a0e0e" stroke-width="1.3"/>
<circle cx="1114.2" cy="564.0" r="6.9" fill="#f44a4a" stroke="#1a0e0e" stroke-width="1.3"/>
<circle cx="1122.3" cy="564.0" r="6.9" fill="#f44a4a" stroke="#1a0e0e" stroke-width="1.3"/>
<circle cx="1166.0" cy="564.5" r="6.9" fill="#f44a4a" stroke="#1a0e0e" stroke-width="1.3"/>
<circle cx="1034" cy="612.2" r="7.3" fill="#bcc2e6" stroke="#1a0e0e" stroke-width="1.3"/>
<line x1="653.6" y1="651" x2="653.6" y2="616" stroke="#c81414" stroke-width="4"/>
<line x1="653.6" y1="651" x2="653.6" y2="616" stroke="#ff8080" stroke-width="1.2"/>
<polygon points="653.6,601.5 647,617 660.2,617" fill="#c81414"/>
<line x1="653.6" y1="651" x2="617" y2="651" stroke="#1ec81e" stroke-width="4"/>
<line x1="653.6" y1="651" x2="617" y2="651" stroke="#90ff90" stroke-width="1.2"/>
<polygon points="603.5,651 618,645 618,657" fill="#1ec81e"/>
<circle cx="653.6" cy="651" r="5.2" fill="#1a1a80" stroke="#000050" stroke-width="0.6"/>
<text x="652.6" y="599.5" font-size="13.5" font-weight="bold" text-anchor="middle" >a</text>
<text x="594" y="657" font-size="13.5" font-weight="bold" text-anchor="middle" >b</text>
<line x1="1197.7" y1="597.8" x2="1197.7" y2="556" stroke="#d01818" stroke-width="4"/>
<line x1="1197.7" y1="597.8" x2="1197.7" y2="556" stroke="#ff7070" stroke-width="1"/>
<polygon points="1197.7,540.5 1190.7,558 1204.7,558" fill="#d41414"/>
<line x1="1197.7" y1="597.8" x2="1176" y2="597.8" stroke="#1010a8" stroke-width="4.5"/>
<polygon points="1163,597.8 1174,590.8 1178,597.8 1174,604.8" fill="#1010b0"/>
<line x1="1197.7" y1="597.8" x2="1228" y2="597.8" stroke="#22b422" stroke-width="4.5"/>
<polygon points="1243.5,597.8 1226,590.8 1230,597.8 1226,604.8" fill="#1eb01e"/>
<circle cx="1197.7" cy="597.8" r="6.3" fill="#cfcfcf" stroke="#8a8a8a" stroke-width="0.7"/>
<text x="1198.5" y="539" font-size="13" font-weight="bold" text-anchor="middle" >a</text>
<text x="1152.6" y="604" font-size="13" font-weight="bold" text-anchor="middle" >c</text>
<text x="1250" y="603.5" font-size="13" font-weight="bold" text-anchor="middle" >b</text>
<text x="699" y="644.6" font-size="21" font-weight="bold" textLength="203.5" lengthAdjust="spacingAndGlyphs">Rb<tspan font-size="16" dy="5">2</tspan><tspan dy="-5">LuB</tspan><tspan font-size="16" dy="5">3</tspan><tspan dy="-5">O</tspan><tspan font-size="16" dy="5">6</tspan><tspan dy="-5">F</tspan><tspan font-size="16" dy="5">2</tspan><tspan dy="-5"> (NCS)</tspan></text>
<text x="974.2" y="644.8" font-size="21" font-weight="bold" textLength="204" lengthAdjust="spacingAndGlyphs">Cs<tspan font-size="16" dy="5">2</tspan><tspan dy="-5">LuB</tspan><tspan font-size="16" dy="5">3</tspan><tspan dy="-5">O</tspan><tspan font-size="16" dy="5">6</tspan><tspan dy="-5">F</tspan><tspan font-size="16" dy="5">2</tspan><tspan dy="-5"> (NCS)</tspan></text>
</svg></body></html>
